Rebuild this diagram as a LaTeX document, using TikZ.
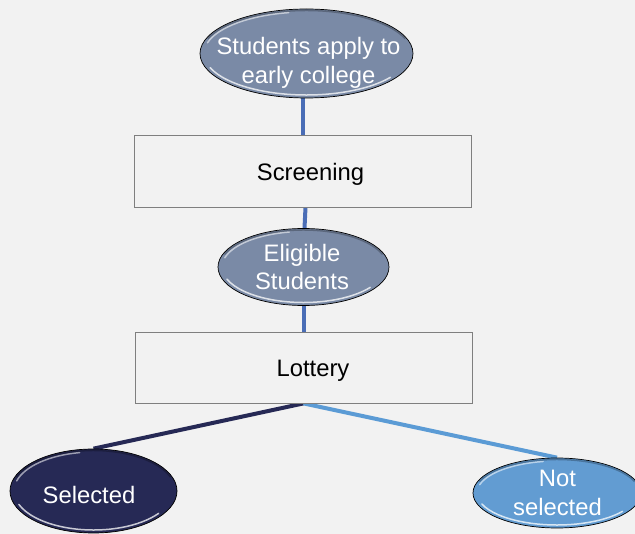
\documentclass[tikz,border=0pt]{standalone}
\usepackage{fontspec}
\setmainfont{Liberation Sans}
\usetikzlibrary{shapes.geometric,calc}
\pgfdeclarelayer{bottomlayer}
\pgfdeclarelayer{linklayer}
\pgfsetlayers{bottomlayer,linklayer,main}
\definecolor{bgc}{HTML}{F2F2F2}
\definecolor{slate}{HTML}{7A8AA6}
\definecolor{navy}{HTML}{262955}
\definecolor{sky}{HTML}{629CD2}
\definecolor{linkblue}{HTML}{4A6DB6}
\definecolor{linksky}{HTML}{5B9BD5}
\definecolor{boxgray}{HTML}{7F7F7F}
\newcommand{\glossy}[3]{%
  \draw[white,opacity=.75,line width=1.5pt,line cap=round]
    ($(#1.center)+(160:{#2-4} and {#3-3})$) arc[start angle=160,end angle=35,x radius={#2-4},y radius={#3-3}];
  \draw[white,opacity=.55,line width=1.5pt,line cap=round]
    ($(#1.center)+(195:{#2-4} and {#3-3})$) arc[start angle=195,end angle=260,x radius={#2-4},y radius={#3-3}];
  \draw[black,opacity=.25,line width=1.5pt]
    ($(#1.center)+(200:{#2-1.5} and {#3-1.5})$) arc[start angle=200,end angle=340,x radius={#2-1.5},y radius={#3-1.5}];
}
\tikzset{
  oval/.style={ellipse,draw=black,line width=0.7pt,inner sep=0pt},
  ovaltext/.style={text=white,align=center,inner sep=0pt,font=\fontsize{23.8}{28.5}\selectfont},
  stagebox/.style={rectangle,draw=boxgray,line width=0.8pt,fill=bgc,inner sep=0pt},
  boxtext/.style={text=black,inner sep=0pt,font=\fontsize{23.8}{28.5}\selectfont},
  link/.style={line width=4pt}
}
\begin{document}
\begin{tikzpicture}[x=1pt,y=-1pt]
\begin{pgfonlayer}{bottomlayer}
\fill[bgc] (0,0) rectangle (635,534);
\end{pgfonlayer}
\useasboundingbox (0,0) rectangle (635,534);

% nodes
\node[oval,fill=slate,minimum width=213pt,minimum height=89pt] (apply) at (306.5,53.5) {};
\node[stagebox,minimum width=337pt,minimum height=72pt] (screen) at (302.5,171) {};
\node[oval,fill=slate,minimum width=171pt,minimum height=77pt] (elig) at (303.5,267) {};
\node[stagebox,minimum width=337pt,minimum height=71pt] (lot) at (303.5,367.5) {};
\node[oval,fill=navy,minimum width=167pt,minimum height=84pt] (sel) at (93.5,491) {};
\node[oval,fill=sky,minimum width=168pt,minimum height=70pt] (nsel) at (557,493) {};

% connectors
\begin{pgfonlayer}{linklayer}
\draw[link,linkblue] (screen.north) -- (screen.north |- apply.south);
\draw[link,linkblue] ($(screen.south)+(3,0)$) -- ($(elig.north)+(1,0)$);
\draw[link,linkblue] (elig.south) -- (lot.north);
\draw[link,navy] (lot.south) -- (sel.north);
\draw[link,linksky] (lot.south) -- (nsel.north);
\end{pgfonlayer}

\glossy{apply}{106.5}{44.5}
\glossy{elig}{85.5}{38.5}
\glossy{sel}{83.5}{42}
\glossy{nsel}{84}{35}

% texts
\node[ovaltext] (applyT) at (308.5,63) {Students apply to\\early college};
\node[boxtext] (screenT) at (310.5,174) {Screening};
\node[ovaltext] (eligT) at (302,267) {Eligible\\Students};
\node[boxtext] (lotT) at (313,370.5) {Lottery};
\node[ovaltext] (selT) at (89,495) {Selected};
\node[ovaltext] (nselT) at (557.5,493) {Not\\selected};
\end{tikzpicture}
\end{document}
